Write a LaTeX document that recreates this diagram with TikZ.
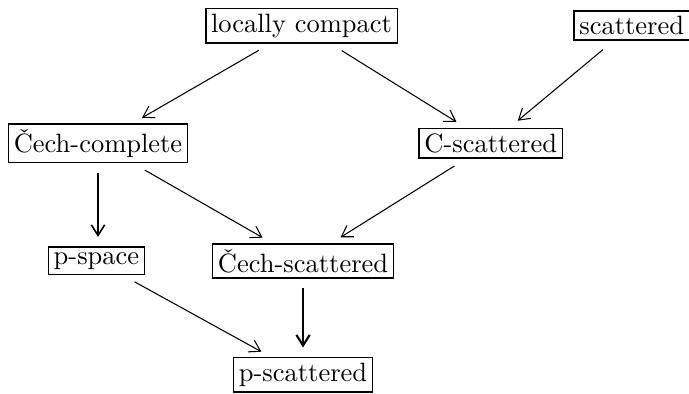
\documentclass[tikz,border=0pt]{standalone}
\usepackage{tikz}
\usepackage{amsmath}
\usetikzlibrary{arrows.meta}
\tikzset{box/.style={draw,line width=0.6pt,inner sep=2pt},
         arr/.style={-{Straight Barb[length=4pt,width=5pt]},line width=0.4pt,shorten <=5pt,shorten >=4pt},
         varr/.style={arr,line width=0.6pt,shorten <=3.5pt,shorten >=3.5pt},
        }

\begin{document}
\begin{tikzpicture}
        \useasboundingbox (0,0) rectangle (9.14,-5.225);
        \node[box](lc)at(4.00,-0.34){locally compact};
        \node[box](sc)at(8.38,-0.34){scattered};
        \node[box](cc)at(1.30,-1.90){\v{C}ech-complete};
        \node[box](cs)at(6.51,-1.90){C-scattered};
        \node[box](ps)at(1.28,-3.46){p-space};
        \node[box](chs)at(4.02,-3.46){\v{C}ech-scattered};
        \node[box](psc)at(4.02,-4.97){p-scattered};

        \draw[arr](lc)--(cc);
        \draw[arr](lc)--(cs);
        \draw[arr](sc)--(cs);
        \draw[varr](cc.south)--(cc.south|-ps.north);
        \draw[arr](cc)--(chs);
        \draw[arr](cs)--(chs);
        \draw[arr](ps)--(psc);
        \draw[varr,line width=0.8pt](chs)--(psc);
    \end{tikzpicture}
\end{document}
